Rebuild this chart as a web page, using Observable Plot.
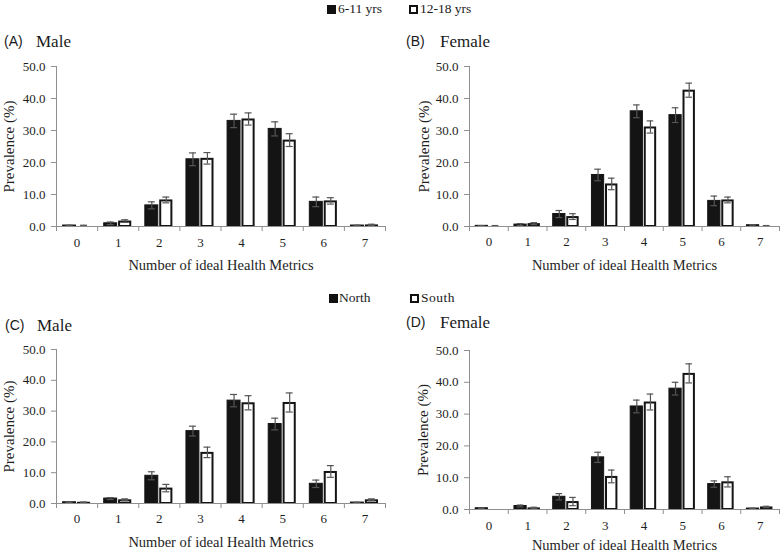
<!DOCTYPE html>
<html><head><meta charset="utf-8">
<script src="https://cdn.jsdelivr.net/npm/d3@7"></script>
<script src="https://cdn.jsdelivr.net/npm/@observablehq/plot@0.6"></script>
<style>
body{margin:0;background:#fff;}
#wrap{position:relative;width:782px;height:551px;overflow:hidden;font-family:"Liberation Serif",serif;color:#1a1a1a;}
.abs{position:absolute;white-space:nowrap;line-height:1;}
.tag{font-family:"Liberation Sans",Arial,sans-serif;font-size:14px;}
.ttl{font-size:17px;}
.leg{font-size:13.5px;}
.sq{position:absolute;box-sizing:border-box;width:9px;height:9px;border:2px solid #111;}
.plot{position:absolute;}
.plot svg, .plot svg text{font-family:"Liberation Serif",serif !important;}
</style></head>
<body>
<div id="wrap">
  <div class="sq" style="left:327px;top:5px;background:#111"></div>
  <div class="abs leg" style="left:338px;top:2px">6-11 yrs</div>
  <div class="sq" style="left:409px;top:5px;background:#fff"></div>
  <div class="abs leg" style="left:420px;top:2px">12-18 yrs</div>

  <div class="sq" style="left:329px;top:294px;background:#111"></div>
  <div class="abs leg" style="left:339px;top:291px">North</div>
  <div class="sq" style="left:410px;top:294px;background:#fff"></div>
  <div class="abs leg" style="left:421px;top:291px;letter-spacing:0.5px">South</div>

  <div class="abs tag" style="left:4px;top:34px">(A)</div>
  <div class="abs ttl" style="left:36px;top:33px">Male</div>
  <div class="abs tag" style="left:406px;top:34px">(B)</div>
  <div class="abs ttl" style="left:440px;top:33px">Female</div>
  <div class="abs tag" style="left:5px;top:318px">(C)</div>
  <div class="abs ttl" style="left:37px;top:317px">Male</div>
  <div class="abs tag" style="left:406px;top:315px">(D)</div>
  <div class="abs ttl" style="left:440px;top:314px">Female</div>

  <div id="pA" class="plot" style="left:0px;top:56px"></div>
  <div id="pB" class="plot" style="left:391px;top:56px"></div>
  <div id="pC" class="plot" style="left:0px;top:339px"></div>
  <div id="pD" class="plot" style="left:391px;top:340px"></div>
</div>
<script>
const metrics = [0, 1, 2, 3, 4, 5, 6, 7];
const boundaries = [-0.5, 0.5, 1.5, 2.5, 3.5, 4.5, 5.5, 6.5, 7.5];
const yTicks = [0, 10, 20, 30, 40, 50];
const yLabel = "Prevalence (%)";
const xLabel = "Number of ideal Health Metrics";

// (A) Male by age
const maleAge611 = [0.3, 1.0, 6.6, 21.0, 33.0, 30.5, 7.7, 0.3];
const maleAge611Err = [0.1, 0.4, 1.1, 2.0, 2.1, 2.2, 1.5, 0.1];
const maleAge1218 = [0.3, 1.7, 8.3, 21.3, 33.6, 27.0, 8.0, 0.5];
const maleAge1218Err = [0.1, 0.4, 0.9, 1.8, 1.9, 2.0, 1.0, 0.2];
// (B) Female by age
const femaleAge611 = [0.2, 0.6, 3.9, 16.1, 36.0, 34.8, 8.0, 0.4];
const femaleAge611Err = [0.1, 0.3, 1.1, 1.8, 2.0, 2.3, 1.5, 0.2];
const femaleAge1218 = [0.2, 0.9, 3.1, 13.3, 31.1, 42.6, 8.3, 0.2];
const femaleAge1218Err = [0.1, 0.3, 0.9, 1.8, 1.9, 2.2, 0.9, 0.1];
// (C) Male by region
const maleNorth = [0.4, 1.6, 9.0, 23.5, 33.4, 25.8, 6.4, 0.3];
const maleNorthErr = [0.1, 0.3, 1.3, 1.6, 2.0, 1.9, 1.2, 0.1];
const maleSouth = [0.4, 1.2, 5.0, 16.6, 32.7, 32.8, 10.4, 1.2];
const maleSouthErr = [0.1, 0.3, 1.2, 1.7, 2.3, 3.1, 1.9, 0.3];
// (D) Female by region
const femaleNorth = [0.4, 1.1, 4.0, 16.4, 32.4, 38.0, 8.0, 0.3];
const femaleNorthErr = [0.1, 0.3, 1.0, 1.6, 2.0, 2.0, 1.0, 0.1];
const femaleSouth = [0.0, 0.5, 2.5, 10.4, 33.8, 42.8, 8.7, 0.8];
const femaleSouthErr = [0.0, 0.2, 1.3, 2.0, 2.5, 3.0, 1.6, 0.2];

const AXIS = "#8f8f8f";
const TEXT = "#1e1e1e";
const SERIF = "Liberation Serif";
const off = [[-0.34, -0.025], [0.01, 0.33]];
const cap = 0.085;

function panel(el, cfg) {
  const rows = [];
  metrics.forEach((m, i) => {
    rows.push({metric: m, g: 0, v: cfg.s1[i], e: cfg.e1[i]});
    rows.push({metric: m, g: 1, v: cfg.s2[i], e: cfg.e2[i]});
  });
  const cx = d => d.metric + (off[d.g][0] + off[d.g][1]) / 2;
  const shown = rows.filter(d => d.v > 0);
  const errs = shown.filter(d => d.e > 0);
  const chart = Plot.plot({
    width: 391, height: cfg.h,
    marginTop: 10, marginBottom: cfg.mb, marginLeft: cfg.ml, marginRight: cfg.mr,
    x: {domain: [-0.5, 7.5]},
    y: {domain: [0, 50]},
    style: {fontFamily: SERIF, fontSize: "13px", color: TEXT, background: "transparent"},
    marks: [
      Plot.rect(shown.filter(d => d.g === 0), {
        x1: d => d.metric + off[0][0], x2: d => d.metric + off[0][1],
        y1: 0, y2: "v", fill: "#141414", stroke: "#141414", strokeWidth: 1
      }),
      Plot.rect(shown.filter(d => d.g === 1), {
        x1: d => d.metric + off[1][0], x2: d => d.metric + off[1][1],
        y1: 0, y2: "v", fill: "#fff", stroke: "#141414", strokeWidth: 2,
        insetLeft: 1, insetRight: 1, insetTop: 1
      }),
      Plot.ruleX(errs, {x: cx, y1: d => d.v - d.e, y2: d => d.v + d.e, stroke: "#555", strokeWidth: 1.2}),
      Plot.ruleY(errs, {y: d => d.v + d.e, x1: d => cx(d) - cap, x2: d => cx(d) + cap, stroke: "#555", strokeWidth: 1.2}),
      Plot.ruleY(errs, {y: d => d.v - d.e, x1: d => cx(d) - cap, x2: d => cx(d) + cap, stroke: "#555", strokeWidth: 1.2}),
      Plot.ruleY([0], {stroke: AXIS}),
      Plot.ruleX([-0.5], {stroke: AXIS}),
      Plot.axisY({ticks: yTicks, tickFormat: d => d.toFixed(1), tickSize: 5, tickPadding: 6,
        stroke: AXIS, fill: TEXT, fontSize: 13, fontFamily: SERIF, label: null}),
      Plot.axisY({ticks: [], tickSize: 0, label: yLabel, labelAnchor: "center", labelArrow: "none",
        labelOffset: cfg.yl, fill: TEXT, fontSize: 15, fontFamily: SERIF}),
      Plot.axisX({ticks: boundaries, tickSize: 5, tickFormat: () => "", stroke: AXIS, label: null}),
      Plot.axisX({ticks: metrics, tickSize: 0, tickPadding: cfg.tp, fill: TEXT, fontSize: 13, fontFamily: SERIF, label: null}),
      Plot.axisX({ticks: [], tickSize: 0, label: xLabel, labelAnchor: "center", labelArrow: "none",
        labelOffset: cfg.xl, fill: TEXT, fontSize: 14.5, fontFamily: SERIF})
    ]
  });
  document.getElementById(el).appendChild(chart);
}

panel("pA", {s1: maleAge611, e1: maleAge611Err, s2: maleAge1218, e2: maleAge1218Err,
  h: 219, mb: 49, ml: 56, mr: 6, yl: 53, xl: 43, tp: 11});
panel("pB", {s1: femaleAge611, e1: femaleAge611Err, s2: femaleAge1218, e2: femaleAge1218Err,
  h: 219, mb: 49, ml: 78, mr: 3, yl: 51, xl: 43, tp: 10});
panel("pC", {s1: maleNorth, e1: maleNorthErr, s2: maleSouth, e2: maleSouthErr,
  h: 212, mb: 48, ml: 56, mr: 6, yl: 53, xl: 43, tp: 10});
panel("pD", {s1: femaleNorth, e1: femaleNorthErr, s2: femaleSouth, e2: femaleSouthErr,
  h: 211, mb: 42, ml: 78, mr: 3, yl: 52, xl: 40, tp: 11});
</script>
</body></html>
